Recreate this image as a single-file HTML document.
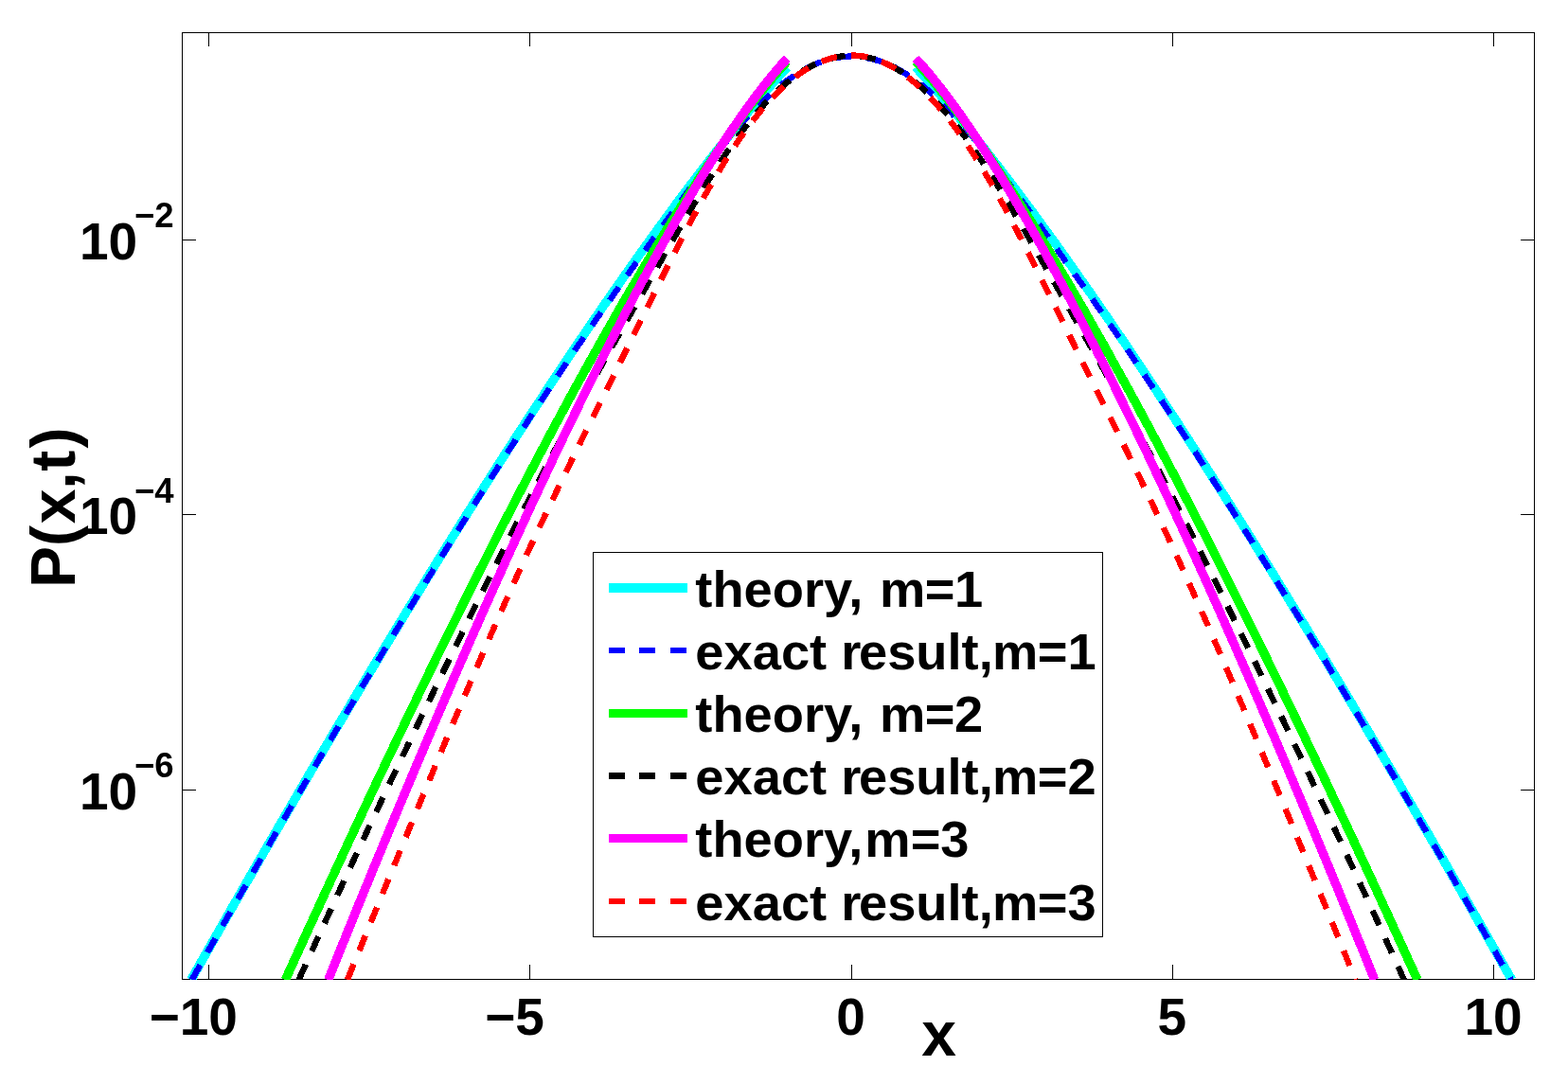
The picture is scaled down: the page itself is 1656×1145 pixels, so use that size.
<!DOCTYPE html>
<html lang="en"><head><meta charset="utf-8"><title>P(x,t)</title>
<style>
html,body{margin:0;padding:0;background:#fff;overflow:hidden;}
svg{display:block;}
text{font-family:"Liberation Sans",Arial,Helvetica,sans-serif;font-weight:bold;fill:#000;}
.tk{font-size:55px;}
.ex{font-size:36.5px;}
.lb{font-size:66px;}
.lg{font-size:54.3px;}
</style></head><body>
<svg width="1656" height="1145" viewBox="0 0 1656 1145">
<rect x="0" y="0" width="1656" height="1145" fill="#fff"/>
<defs><clipPath id="ax"><rect x="192.0" y="34.0" width="1429.0" height="1001.0"/></clipPath></defs>

<g stroke="#000" stroke-width="1" fill="none" shape-rendering="crispEdges">
<rect x="192.5" y="34.5" width="1428.0" height="1000.0"/>
<line x1="220.5" y1="1034.5" x2="220.5" y2="1019.0"/><line x1="220.5" y1="34.5" x2="220.5" y2="49.0"/>
<line x1="559.5" y1="1034.5" x2="559.5" y2="1019.0"/><line x1="559.5" y1="34.5" x2="559.5" y2="49.0"/>
<line x1="899.5" y1="1034.5" x2="899.5" y2="1019.0"/><line x1="899.5" y1="34.5" x2="899.5" y2="49.0"/>
<line x1="1238.5" y1="1034.5" x2="1238.5" y2="1019.0"/><line x1="1238.5" y1="34.5" x2="1238.5" y2="49.0"/>
<line x1="1577.5" y1="1034.5" x2="1577.5" y2="1019.0"/><line x1="1577.5" y1="34.5" x2="1577.5" y2="49.0"/>
<line x1="192.5" y1="253.5" x2="207.0" y2="253.5"/><line x1="1620.5" y1="253.5" x2="1606.0" y2="253.5"/>
<line x1="192.5" y1="543.5" x2="207.0" y2="543.5"/><line x1="1620.5" y1="543.5" x2="1606.0" y2="543.5"/>
<line x1="192.5" y1="834.5" x2="207.0" y2="834.5"/><line x1="1620.5" y1="834.5" x2="1606.0" y2="834.5"/>
</g>
<g clip-path="url(#ax)" fill="none" stroke-linejoin="round" shape-rendering="crispEdges">
<path d="M201.8,1035.0 L206.3,1027.0 L210.8,1019.1 L215.3,1011.1 L219.8,1003.2 L224.3,995.3 L228.8,987.4 L233.3,979.5 L237.8,971.6 L242.3,963.7 L246.8,955.8 L251.3,948.0 L255.8,940.1 L260.3,932.3 L264.8,924.5 L269.3,916.6 L273.8,908.8 L278.3,901.0 L282.8,893.3 L287.3,885.5 L291.8,877.7 L296.3,870.0 L300.8,862.2 L305.3,854.5 L309.8,846.8 L314.3,839.1 L318.8,831.4 L323.2,823.7 L327.7,816.0 L332.2,808.4 L336.7,800.7 L341.2,793.1 L345.7,785.5 L350.2,777.9 L354.7,770.3 L359.2,762.7 L363.7,755.1 L368.2,747.6 L372.7,740.0 L377.2,732.5 L381.7,725.0 L386.2,717.4 L390.7,710.0 L395.2,702.5 L399.7,695.0 L404.2,687.5 L408.7,680.1 L413.2,672.7 L417.7,665.3 L422.2,657.9 L426.7,650.5 L431.2,643.1 L435.7,635.8 L440.2,628.4 L444.7,621.1 L449.1,613.8 L453.6,606.5 L458.1,599.2 L462.6,591.9 L467.1,584.7 L471.6,577.4 L476.1,570.2 L480.6,563.0 L485.1,555.8 L489.6,548.6 L494.1,541.5 L498.6,534.4 L503.1,527.2 L507.6,520.1 L512.1,513.0 L516.6,506.0 L521.1,498.9 L525.6,491.9 L530.1,484.8 L534.6,477.8 L539.1,470.9 L543.6,463.9 L548.1,456.9 L552.6,450.0 L557.1,443.1 L561.6,436.2 L566.1,429.3 L570.6,422.5 L575.1,415.7 L579.5,408.8 L584.0,402.1 L588.5,395.3 L593.0,388.5 L597.5,381.8 L602.0,375.1 L606.5,368.4 L611.0,361.7 L615.5,355.1 L620.0,348.5 L624.5,341.9 L629.0,335.3 L633.5,328.8 L638.0,322.2 L642.5,315.7 L647.0,309.2 L651.5,302.8 L656.0,296.4 L660.5,289.9 L665.0,283.6 L669.5,277.2 L674.0,270.9 L678.5,264.6 L683.0,258.3 L687.5,252.1 L692.0,245.9 L696.5,239.7 L701.0,233.5 L705.4,227.4 L709.9,221.3 L714.4,215.2 L718.9,209.2 L723.4,203.2 L727.9,197.2 L732.4,191.3 L736.9,185.4 L741.4,179.5 L745.9,173.7 L750.4,167.9 L754.9,162.1 L759.4,156.4 L763.9,150.7 L768.4,145.1 L772.9,139.4 L777.4,133.9 L781.9,128.4 L786.4,122.9 L790.9,117.4 L795.4,112.1 L799.9,106.7 L804.4,101.4 L808.9,96.2 L813.4,91.0 L817.9,85.9 L822.4,80.9 L826.9,75.9 L831.4,71.0" stroke="#00ffff" stroke-width="9.5"/>
<path d="M967.1,71.0 L971.5,75.9 L976.0,80.9 L980.5,85.9 L985.0,91.0 L989.5,96.2 L994.0,101.4 L998.5,106.7 L1003.0,112.1 L1007.5,117.4 L1012.0,122.9 L1016.5,128.4 L1021.0,133.9 L1025.5,139.4 L1030.0,145.1 L1034.5,150.7 L1039.0,156.4 L1043.5,162.1 L1048.0,167.9 L1052.5,173.7 L1057.0,179.5 L1061.5,185.4 L1066.0,191.3 L1070.5,197.2 L1075.0,203.2 L1079.5,209.2 L1084.0,215.2 L1088.5,221.3 L1093.0,227.4 L1097.4,233.5 L1101.9,239.7 L1106.4,245.9 L1110.9,252.1 L1115.4,258.3 L1119.9,264.6 L1124.4,270.9 L1128.9,277.2 L1133.4,283.6 L1137.9,289.9 L1142.4,296.4 L1146.9,302.8 L1151.4,309.2 L1155.9,315.7 L1160.4,322.2 L1164.9,328.8 L1169.4,335.3 L1173.9,341.9 L1178.4,348.5 L1182.9,355.1 L1187.4,361.7 L1191.9,368.4 L1196.4,375.1 L1200.9,381.8 L1205.4,388.5 L1209.9,395.3 L1214.4,402.1 L1218.9,408.8 L1223.3,415.7 L1227.8,422.5 L1232.3,429.3 L1236.8,436.2 L1241.3,443.1 L1245.8,450.0 L1250.3,456.9 L1254.8,463.9 L1259.3,470.9 L1263.8,477.8 L1268.3,484.8 L1272.8,491.9 L1277.3,498.9 L1281.8,506.0 L1286.3,513.0 L1290.8,520.1 L1295.3,527.2 L1299.8,534.4 L1304.3,541.5 L1308.8,548.6 L1313.3,555.8 L1317.8,563.0 L1322.3,570.2 L1326.8,577.4 L1331.3,584.7 L1335.8,591.9 L1340.3,599.2 L1344.8,606.5 L1349.3,613.8 L1353.7,621.1 L1358.2,628.4 L1362.7,635.8 L1367.2,643.1 L1371.7,650.5 L1376.2,657.9 L1380.7,665.3 L1385.2,672.7 L1389.7,680.1 L1394.2,687.5 L1398.7,695.0 L1403.2,702.5 L1407.7,710.0 L1412.2,717.4 L1416.7,725.0 L1421.2,732.5 L1425.7,740.0 L1430.2,747.6 L1434.7,755.1 L1439.2,762.7 L1443.7,770.3 L1448.2,777.9 L1452.7,785.5 L1457.2,793.1 L1461.7,800.7 L1466.2,808.4 L1470.7,816.0 L1475.2,823.7 L1479.6,831.4 L1484.1,839.1 L1488.6,846.8 L1493.1,854.5 L1497.6,862.2 L1502.1,870.0 L1506.6,877.7 L1511.1,885.5 L1515.6,893.3 L1520.1,901.0 L1524.6,908.8 L1529.1,916.6 L1533.6,924.5 L1538.1,932.3 L1542.6,940.1 L1547.1,948.0 L1551.6,955.8 L1556.1,963.7 L1560.6,971.6 L1565.1,979.5 L1569.6,987.4 L1574.1,995.3 L1578.6,1003.2 L1583.1,1011.1 L1587.6,1019.1 L1592.1,1027.0 L1596.6,1035.0" stroke="#00ffff" stroke-width="9.5"/>
<path d="M202.6,1035.0 L203.6,1033.3" stroke="#0000ff" stroke-width="6.4"/>
<path d="M202.6,1035.0 L206.8,1027.5 L211.0,1020.1 L215.3,1012.6 L219.5,1005.2 L223.7,997.8 L227.9,990.3 L232.1,982.9 L236.4,975.5 L240.6,968.1 L244.8,960.7 L249.0,953.4 L253.3,946.0 L257.5,938.6 L261.7,931.3 L265.9,924.0 L270.1,916.6 L274.4,909.3 L278.6,902.0 L282.8,894.7 L287.0,887.4 L291.2,880.1 L295.5,872.9 L299.7,865.6 L303.9,858.3 L308.1,851.1 L312.4,843.9 L316.6,836.7 L320.8,829.4 L325.0,822.2 L329.2,815.1 L333.5,807.9 L337.7,800.7 L341.9,793.6 L346.1,786.4 L350.4,779.3 L354.6,772.1 L358.8,765.0 L363.0,757.9 L367.2,750.8 L371.5,743.8 L375.7,736.7 L379.9,729.6 L384.1,722.6 L388.4,715.6 L392.6,708.6 L396.8,701.5 L401.0,694.6 L405.2,687.6 L409.5,680.6 L413.7,673.6 L417.9,666.7 L422.1,659.8 L426.3,652.9 L430.6,645.9 L434.8,639.1 L439.0,632.2 L443.2,625.3 L447.5,618.5 L451.7,611.6 L455.9,604.8 L460.1,598.0 L464.3,591.2 L468.6,584.4 L472.8,577.6 L477.0,570.9 L481.2,564.1 L485.5,557.4 L489.7,550.7 L493.9,544.0 L498.1,537.3 L502.3,530.6 L506.6,523.9 L510.8,517.3 L515.0,510.7 L519.2,504.0 L523.5,497.4 L527.7,490.8 L531.9,484.3 L536.1,477.7 L540.3,471.2 L544.6,464.6 L548.8,458.1 L553.0,451.6 L557.2,445.2 L561.4,438.7 L565.7,432.3 L569.9,425.8 L574.1,419.4 L578.3,413.1 L582.6,406.7 L586.8,400.4 L591.0,394.1 L595.2,387.8 L599.4,381.5 L603.7,375.3 L607.9,369.1 L612.1,362.9 L616.3,356.8 L620.6,350.6 L624.8,344.5 L629.0,338.4 L633.2,332.3 L637.4,326.3 L641.7,320.3 L645.9,314.3 L650.1,308.3 L654.3,302.3 L658.6,296.4 L662.8,290.4 L667.0,284.5 L671.2,278.6 L675.4,272.7 L679.7,266.8 L683.9,260.9 L688.1,255.1 L692.3,249.2 L696.5,243.4 L700.8,237.5 L705.0,231.7 L709.2,225.9 L713.4,220.1 L717.7,214.3 L721.9,208.6 L726.1,202.8 L730.3,197.1 L734.5,191.5 L738.8,185.8 L743.0,180.2 L747.2,174.7 L751.4,169.2 L755.7,163.8 L759.9,158.5 L764.1,153.2 L768.3,148.0 L772.5,142.9 L776.8,137.9 L781.0,133.0 L785.2,128.3 L789.4,123.6 L793.7,119.1 L797.9,114.7 L802.1,110.4 L806.3,106.3 L810.5,102.3 L814.8,98.5 L819.0,94.8 L823.2,91.3 L827.4,88.0 L831.6,84.8 L835.9,81.8 L840.1,79.0 L844.3,76.4 L848.5,73.9 L852.8,71.6 L857.0,69.6 L861.2,67.7 L865.4,66.0 L869.6,64.5 L873.9,63.2 L878.1,62.1 L882.3,61.2 L886.5,60.5 L890.8,60.0 L895.0,59.7 L899.2,59.6 L903.4,59.7 L907.6,60.0 L911.9,60.5 L916.1,61.2 L920.3,62.1 L924.5,63.2 L928.8,64.5 L933.0,66.0 L937.2,67.7 L941.4,69.6 L945.6,71.6 L949.9,73.9 L954.1,76.4 L958.3,79.0 L962.5,81.8 L966.8,84.8 L971.0,88.0 L975.2,91.3 L979.4,94.8 L983.6,98.5 L987.9,102.3 L992.1,106.3 L996.3,110.4 L1000.5,114.7 L1004.7,119.1 L1009.0,123.6 L1013.2,128.3 L1017.4,133.0 L1021.6,137.9 L1025.9,142.9 L1030.1,148.0 L1034.3,153.2 L1038.5,158.5 L1042.7,163.8 L1047.0,169.2 L1051.2,174.7 L1055.4,180.2 L1059.6,185.8 L1063.9,191.5 L1068.1,197.1 L1072.3,202.8 L1076.5,208.6 L1080.7,214.3 L1085.0,220.1 L1089.2,225.9 L1093.4,231.7 L1097.6,237.5 L1101.9,243.4 L1106.1,249.2 L1110.3,255.1 L1114.5,260.9 L1118.7,266.8 L1123.0,272.7 L1127.2,278.6 L1131.4,284.5 L1135.6,290.4 L1139.8,296.4 L1144.1,302.3 L1148.3,308.3 L1152.5,314.3 L1156.7,320.3 L1161.0,326.3 L1165.2,332.3 L1169.4,338.4 L1173.6,344.5 L1177.8,350.6 L1182.1,356.8 L1186.3,362.9 L1190.5,369.1 L1194.7,375.3 L1199.0,381.5 L1203.2,387.8 L1207.4,394.1 L1211.6,400.4 L1215.8,406.7 L1220.1,413.1 L1224.3,419.4 L1228.5,425.8 L1232.7,432.3 L1237.0,438.7 L1241.2,445.2 L1245.4,451.6 L1249.6,458.1 L1253.8,464.6 L1258.1,471.2 L1262.3,477.7 L1266.5,484.3 L1270.7,490.8 L1274.9,497.4 L1279.2,504.0 L1283.4,510.7 L1287.6,517.3 L1291.8,523.9 L1296.1,530.6 L1300.3,537.3 L1304.5,544.0 L1308.7,550.7 L1312.9,557.4 L1317.2,564.1 L1321.4,570.9 L1325.6,577.6 L1329.8,584.4 L1334.1,591.2 L1338.3,598.0 L1342.5,604.8 L1346.7,611.6 L1350.9,618.5 L1355.2,625.3 L1359.4,632.2 L1363.6,639.1 L1367.8,645.9 L1372.1,652.9 L1376.3,659.8 L1380.5,666.7 L1384.7,673.6 L1388.9,680.6 L1393.2,687.6 L1397.4,694.6 L1401.6,701.5 L1405.8,708.6 L1410.0,715.6 L1414.3,722.6 L1418.5,729.6 L1422.7,736.7 L1426.9,743.8 L1431.2,750.8 L1435.4,757.9 L1439.6,765.0 L1443.8,772.1 L1448.0,779.3 L1452.3,786.4 L1456.5,793.6 L1460.7,800.7 L1464.9,807.9 L1469.2,815.1 L1473.4,822.2 L1477.6,829.4 L1481.8,836.7 L1486.0,843.9 L1490.3,851.1 L1494.5,858.3 L1498.7,865.6 L1502.9,872.9 L1507.2,880.1 L1511.4,887.4 L1515.6,894.7 L1519.8,902.0 L1524.0,909.3 L1528.3,916.6 L1532.5,924.0 L1536.7,931.3 L1540.9,938.6 L1545.1,946.0 L1549.4,953.4 L1553.6,960.7 L1557.8,968.1 L1562.0,975.5 L1566.3,982.9 L1570.5,990.3 L1574.7,997.8 L1578.9,1005.2 L1583.1,1012.6 L1587.4,1020.1 L1591.6,1027.5 L1595.8,1035.0" stroke="#0000ff" stroke-width="6.4" stroke-dasharray="17 15.38" stroke-dashoffset="-0.9"/>
<path d="M301.4,1035.0 L305.2,1026.6 L309.0,1018.3 L312.8,1010.0 L316.5,1001.7 L320.3,993.4 L324.1,985.1 L327.9,976.8 L331.7,968.5 L335.5,960.3 L339.3,952.0 L343.0,943.8 L346.8,935.6 L350.6,927.4 L354.4,919.2 L358.2,911.0 L362.0,902.9 L365.8,894.7 L369.5,886.6 L373.3,878.5 L377.1,870.4 L380.9,862.3 L384.7,854.3 L388.5,846.2 L392.3,838.2 L396.0,830.1 L399.8,822.1 L403.6,814.1 L407.4,806.2 L411.2,798.2 L415.0,790.2 L418.8,782.3 L422.5,774.4 L426.3,766.5 L430.1,758.6 L433.9,750.7 L437.7,742.9 L441.5,735.0 L445.2,727.2 L449.0,719.4 L452.8,711.6 L456.6,703.9 L460.4,696.1 L464.2,688.4 L468.0,680.7 L471.7,673.0 L475.5,665.3 L479.3,657.6 L483.1,650.0 L486.9,642.3 L490.7,634.7 L494.5,627.1 L498.2,619.6 L502.0,612.0 L505.8,604.5 L509.6,597.0 L513.4,589.5 L517.2,582.0 L521.0,574.5 L524.7,567.1 L528.5,559.7 L532.3,552.3 L536.1,544.9 L539.9,537.6 L543.7,530.2 L547.5,522.9 L551.2,515.6 L555.0,508.4 L558.8,501.1 L562.6,493.9 L566.4,486.7 L570.2,479.5 L573.9,472.4 L577.7,465.2 L581.5,458.1 L585.3,451.0 L589.1,444.0 L592.9,436.9 L596.7,429.9 L600.4,422.9 L604.2,416.0 L608.0,409.0 L611.8,402.1 L615.6,395.2 L619.4,388.4 L623.2,381.6 L626.9,374.8 L630.7,368.0 L634.5,361.2 L638.3,354.5 L642.1,347.8 L645.9,341.2 L649.7,334.5 L653.4,327.9 L657.2,321.3 L661.0,314.8 L664.8,308.3 L668.6,301.8 L672.4,295.4 L676.2,289.0 L679.9,282.6 L683.7,276.2 L687.5,269.9 L691.3,263.6 L695.1,257.4 L698.9,251.2 L702.6,245.0 L706.4,238.9 L710.2,232.8 L714.0,226.8 L717.8,220.7 L721.6,214.8 L725.4,208.8 L729.1,202.9 L732.9,197.1 L736.7,191.3 L740.5,185.5 L744.3,179.8 L748.1,174.2 L751.9,168.5 L755.6,163.0 L759.4,157.5 L763.2,152.0 L767.0,146.6 L770.8,141.2 L774.6,135.9 L778.4,130.7 L782.1,125.5 L785.9,120.4 L789.7,115.3 L793.5,110.3 L797.3,105.4 L801.1,100.5 L804.9,95.8 L808.6,91.1 L812.4,86.4 L816.2,81.9 L820.0,77.5 L823.8,73.1 L827.6,68.9 L831.4,64.7" stroke="#00ff00" stroke-width="9.5"/>
<path d="M967.1,64.7 L970.8,68.9 L974.6,73.1 L978.4,77.5 L982.2,81.9 L986.0,86.4 L989.8,91.1 L993.5,95.8 L997.3,100.5 L1001.1,105.4 L1004.9,110.3 L1008.7,115.3 L1012.5,120.4 L1016.3,125.5 L1020.0,130.7 L1023.8,135.9 L1027.6,141.2 L1031.4,146.6 L1035.2,152.0 L1039.0,157.5 L1042.8,163.0 L1046.5,168.5 L1050.3,174.2 L1054.1,179.8 L1057.9,185.5 L1061.7,191.3 L1065.5,197.1 L1069.3,202.9 L1073.0,208.8 L1076.8,214.8 L1080.6,220.7 L1084.4,226.8 L1088.2,232.8 L1092.0,238.9 L1095.8,245.0 L1099.5,251.2 L1103.3,257.4 L1107.1,263.6 L1110.9,269.9 L1114.7,276.2 L1118.5,282.6 L1122.2,289.0 L1126.0,295.4 L1129.8,301.8 L1133.6,308.3 L1137.4,314.8 L1141.2,321.3 L1145.0,327.9 L1148.7,334.5 L1152.5,341.2 L1156.3,347.8 L1160.1,354.5 L1163.9,361.2 L1167.7,368.0 L1171.5,374.8 L1175.2,381.6 L1179.0,388.4 L1182.8,395.2 L1186.6,402.1 L1190.4,409.0 L1194.2,416.0 L1198.0,422.9 L1201.7,429.9 L1205.5,436.9 L1209.3,444.0 L1213.1,451.0 L1216.9,458.1 L1220.7,465.2 L1224.5,472.4 L1228.2,479.5 L1232.0,486.7 L1235.8,493.9 L1239.6,501.1 L1243.4,508.4 L1247.2,515.6 L1250.9,522.9 L1254.7,530.2 L1258.5,537.6 L1262.3,544.9 L1266.1,552.3 L1269.9,559.7 L1273.7,567.1 L1277.4,574.5 L1281.2,582.0 L1285.0,589.5 L1288.8,597.0 L1292.6,604.5 L1296.4,612.0 L1300.2,619.6 L1303.9,627.1 L1307.7,634.7 L1311.5,642.3 L1315.3,650.0 L1319.1,657.6 L1322.9,665.3 L1326.7,673.0 L1330.4,680.7 L1334.2,688.4 L1338.0,696.1 L1341.8,703.9 L1345.6,711.6 L1349.4,719.4 L1353.2,727.2 L1356.9,735.0 L1360.7,742.9 L1364.5,750.7 L1368.3,758.6 L1372.1,766.5 L1375.9,774.4 L1379.6,782.3 L1383.4,790.2 L1387.2,798.2 L1391.0,806.2 L1394.8,814.1 L1398.6,822.1 L1402.4,830.1 L1406.1,838.2 L1409.9,846.2 L1413.7,854.3 L1417.5,862.3 L1421.3,870.4 L1425.1,878.5 L1428.9,886.6 L1432.6,894.7 L1436.4,902.9 L1440.2,911.0 L1444.0,919.2 L1447.8,927.4 L1451.6,935.6 L1455.4,943.8 L1459.1,952.0 L1462.9,960.3 L1466.7,968.5 L1470.5,976.8 L1474.3,985.1 L1478.1,993.4 L1481.9,1001.7 L1485.6,1010.0 L1489.4,1018.3 L1493.2,1026.6 L1497.0,1035.0" stroke="#00ff00" stroke-width="9.5"/>
<path d="M315.5,1035.0 L316.3,1033.2" stroke="#000000" stroke-width="6.4"/>
<path d="M315.5,1035.0 L319.0,1027.2 L322.6,1019.4 L326.1,1011.6 L329.6,1003.8 L333.2,996.0 L336.7,988.3 L340.2,980.6 L343.8,972.8 L347.3,965.1 L350.9,957.4 L354.4,949.7 L357.9,942.1 L361.5,934.4 L365.0,926.7 L368.5,919.1 L372.1,911.5 L375.6,903.9 L379.2,896.3 L382.7,888.7 L386.2,881.2 L389.8,873.6 L393.3,866.1 L396.8,858.5 L400.4,851.0 L403.9,843.5 L407.5,836.0 L411.0,828.6 L414.5,821.1 L418.1,813.7 L421.6,806.2 L425.1,798.8 L428.7,791.4 L432.2,784.0 L435.8,776.6 L439.3,769.2 L442.8,761.8 L446.4,754.5 L449.9,747.1 L453.5,739.8 L457.0,732.5 L460.5,725.1 L464.1,717.8 L467.6,710.5 L471.1,703.2 L474.7,696.0 L478.2,688.7 L481.8,681.4 L485.3,674.2 L488.8,667.0 L492.4,659.8 L495.9,652.6 L499.4,645.4 L503.0,638.2 L506.5,631.0 L510.1,623.9 L513.6,616.7 L517.1,609.6 L520.7,602.5 L524.2,595.5 L527.7,588.4 L531.3,581.4 L534.8,574.3 L538.4,567.3 L541.9,560.4 L545.4,553.4 L549.0,546.5 L552.5,539.6 L556.0,532.7 L559.6,525.9 L563.1,519.1 L566.7,512.3 L570.2,505.5 L573.7,498.8 L577.3,492.1 L580.8,485.4 L584.3,478.7 L587.9,472.1 L591.4,465.5 L595.0,459.0 L598.5,452.4 L602.0,445.9 L605.6,439.5 L609.1,433.0 L612.6,426.6 L616.2,420.2 L619.7,413.8 L623.3,407.4 L626.8,401.1 L630.3,394.8 L633.9,388.5 L637.4,382.2 L640.9,375.9 L644.5,369.6 L648.0,363.4 L651.6,357.1 L655.1,350.9 L658.6,344.6 L662.2,338.4 L665.7,332.1 L669.2,325.9 L672.8,319.7 L676.3,313.5 L679.9,307.2 L683.4,301.0 L686.9,294.8 L690.5,288.6 L694.0,282.4 L697.6,276.2 L701.1,270.0 L704.6,263.8 L708.2,257.7 L711.7,251.5 L715.2,245.4 L718.8,239.4 L722.3,233.3 L725.9,227.3 L729.4,221.3 L732.9,215.4 L736.5,209.6 L740.0,203.8 L743.5,198.0 L747.1,192.3 L750.6,186.7 L754.2,181.2 L757.7,175.8 L761.2,170.4 L764.8,165.1 L768.3,159.9 L771.8,154.8 L775.4,149.9 L778.9,145.0 L782.5,140.2 L786.0,135.6 L789.5,131.0 L793.1,126.6 L796.6,122.3 L800.1,118.1 L803.7,114.1 L807.2,110.2 L810.8,106.4 L814.3,102.7 L817.8,99.2 L821.4,95.8 L824.9,92.6 L828.4,89.5 L832.0,86.5 L835.5,83.7 L839.1,81.0 L842.6,78.5 L846.1,76.1 L849.7,73.9 L853.2,71.8 L856.7,69.9 L860.3,68.1 L863.8,66.5 L867.4,65.0 L870.9,63.7 L874.4,62.6 L878.0,61.6 L881.5,60.7 L885.0,60.0 L888.6,59.5 L892.1,59.1 L895.7,58.8 L899.2,58.8 L902.7,58.8 L906.3,59.1 L909.8,59.5 L913.4,60.0 L916.9,60.7 L920.4,61.6 L924.0,62.6 L927.5,63.7 L931.0,65.0 L934.6,66.5 L938.1,68.1 L941.7,69.9 L945.2,71.8 L948.7,73.9 L952.3,76.1 L955.8,78.5 L959.3,81.0 L962.9,83.7 L966.4,86.5 L970.0,89.5 L973.5,92.6 L977.0,95.8 L980.6,99.2 L984.1,102.7 L987.6,106.4 L991.2,110.2 L994.7,114.1 L998.3,118.1 L1001.8,122.3 L1005.3,126.6 L1008.9,131.0 L1012.4,135.6 L1015.9,140.2 L1019.5,145.0 L1023.0,149.9 L1026.6,154.8 L1030.1,159.9 L1033.6,165.1 L1037.2,170.4 L1040.7,175.8 L1044.2,181.2 L1047.8,186.7 L1051.3,192.3 L1054.9,198.0 L1058.4,203.8 L1061.9,209.6 L1065.5,215.4 L1069.0,221.3 L1072.5,227.3 L1076.1,233.3 L1079.6,239.4 L1083.2,245.4 L1086.7,251.5 L1090.2,257.7 L1093.8,263.8 L1097.3,270.0 L1100.8,276.2 L1104.4,282.4 L1107.9,288.6 L1111.5,294.8 L1115.0,301.0 L1118.5,307.2 L1122.1,313.5 L1125.6,319.7 L1129.2,325.9 L1132.7,332.1 L1136.2,338.4 L1139.8,344.6 L1143.3,350.9 L1146.8,357.1 L1150.4,363.4 L1153.9,369.6 L1157.5,375.9 L1161.0,382.2 L1164.5,388.5 L1168.1,394.8 L1171.6,401.1 L1175.1,407.4 L1178.7,413.8 L1182.2,420.2 L1185.8,426.6 L1189.3,433.0 L1192.8,439.5 L1196.4,445.9 L1199.9,452.4 L1203.4,459.0 L1207.0,465.5 L1210.5,472.1 L1214.1,478.7 L1217.6,485.4 L1221.1,492.1 L1224.7,498.8 L1228.2,505.5 L1231.7,512.3 L1235.3,519.1 L1238.8,525.9 L1242.4,532.7 L1245.9,539.6 L1249.4,546.5 L1253.0,553.4 L1256.5,560.4 L1260.0,567.3 L1263.6,574.3 L1267.1,581.4 L1270.7,588.4 L1274.2,595.5 L1277.7,602.5 L1281.3,609.6 L1284.8,616.7 L1288.3,623.9 L1291.9,631.0 L1295.4,638.2 L1299.0,645.4 L1302.5,652.6 L1306.0,659.8 L1309.6,667.0 L1313.1,674.2 L1316.6,681.4 L1320.2,688.7 L1323.7,696.0 L1327.3,703.2 L1330.8,710.5 L1334.3,717.8 L1337.9,725.1 L1341.4,732.5 L1344.9,739.8 L1348.5,747.1 L1352.0,754.5 L1355.6,761.8 L1359.1,769.2 L1362.6,776.6 L1366.2,784.0 L1369.7,791.4 L1373.3,798.8 L1376.8,806.2 L1380.3,813.7 L1383.9,821.1 L1387.4,828.6 L1390.9,836.0 L1394.5,843.5 L1398.0,851.0 L1401.6,858.5 L1405.1,866.1 L1408.6,873.6 L1412.2,881.2 L1415.7,888.7 L1419.2,896.3 L1422.8,903.9 L1426.3,911.5 L1429.9,919.1 L1433.4,926.7 L1436.9,934.4 L1440.5,942.1 L1444.0,949.7 L1447.5,957.4 L1451.1,965.1 L1454.6,972.8 L1458.2,980.6 L1461.7,988.3 L1465.2,996.0 L1468.8,1003.8 L1472.3,1011.6 L1475.8,1019.4 L1479.4,1027.2 L1482.9,1035.0" stroke="#000000" stroke-width="6.4" stroke-dasharray="17 15.38" stroke-dashoffset="-0.9"/>
<path d="M346.7,1035.0 L350.1,1026.4 L353.6,1017.8 L357.1,1009.2 L360.5,1000.6 L364.0,992.1 L367.4,983.5 L370.9,975.0 L374.4,966.5 L377.8,958.0 L381.3,949.5 L384.7,941.0 L388.2,932.6 L391.7,924.2 L395.1,915.7 L398.6,907.3 L402.1,898.9 L405.5,890.6 L409.0,882.2 L412.4,873.9 L415.9,865.6 L419.4,857.3 L422.8,849.0 L426.3,840.7 L429.8,832.5 L433.2,824.2 L436.7,816.0 L440.1,807.8 L443.6,799.7 L447.1,791.5 L450.5,783.3 L454.0,775.2 L457.5,767.1 L460.9,759.0 L464.4,751.0 L467.8,742.9 L471.3,734.9 L474.8,726.9 L478.2,718.9 L481.7,710.9 L485.1,703.0 L488.6,695.0 L492.1,687.1 L495.5,679.2 L499.0,671.3 L502.5,663.5 L505.9,655.7 L509.4,647.8 L512.8,640.1 L516.3,632.3 L519.8,624.5 L523.2,616.8 L526.7,609.1 L530.2,601.4 L533.6,593.8 L537.1,586.1 L540.5,578.5 L544.0,570.9 L547.5,563.4 L550.9,555.8 L554.4,548.3 L557.8,540.8 L561.3,533.3 L564.8,525.9 L568.2,518.5 L571.7,511.1 L575.2,503.7 L578.6,496.4 L582.1,489.0 L585.5,481.7 L589.0,474.5 L592.5,467.2 L595.9,460.0 L599.4,452.8 L602.9,445.7 L606.3,438.5 L609.8,431.4 L613.2,424.4 L616.7,417.3 L620.2,410.3 L623.6,403.3 L627.1,396.4 L630.6,389.4 L634.0,382.5 L637.5,375.7 L640.9,368.8 L644.4,362.0 L647.9,355.3 L651.3,348.5 L654.8,341.8 L658.2,335.1 L661.7,328.5 L665.2,321.9 L668.6,315.3 L672.1,308.8 L675.6,302.3 L679.0,295.9 L682.5,289.4 L685.9,283.1 L689.4,276.7 L692.9,270.4 L696.3,264.1 L699.8,257.9 L703.3,251.7 L706.7,245.6 L710.2,239.5 L713.6,233.4 L717.1,227.4 L720.6,221.5 L724.0,215.5 L727.5,209.7 L731.0,203.8 L734.4,198.1 L737.9,192.3 L741.3,186.6 L744.8,181.0 L748.3,175.4 L751.7,169.9 L755.2,164.5 L758.6,159.0 L762.1,153.7 L765.6,148.4 L769.0,143.2 L772.5,138.0 L776.0,132.9 L779.4,127.9 L782.9,122.9 L786.3,118.0 L789.8,113.1 L793.3,108.4 L796.7,103.7 L800.2,99.1 L803.7,94.6 L807.1,90.1 L810.6,85.8 L814.0,81.5 L817.5,77.4 L821.0,73.3 L824.4,69.4 L827.9,65.5 L831.4,61.8" stroke="#ff00ff" stroke-width="9.5"/>
<path d="M967.1,61.8 L970.5,65.5 L974.0,69.4 L977.4,73.3 L980.9,77.4 L984.4,81.5 L987.8,85.8 L991.3,90.1 L994.7,94.6 L998.2,99.1 L1001.7,103.7 L1005.1,108.4 L1008.6,113.1 L1012.1,118.0 L1015.5,122.9 L1019.0,127.9 L1022.4,132.9 L1025.9,138.0 L1029.4,143.2 L1032.8,148.4 L1036.3,153.7 L1039.8,159.0 L1043.2,164.5 L1046.7,169.9 L1050.1,175.4 L1053.6,181.0 L1057.1,186.6 L1060.5,192.3 L1064.0,198.1 L1067.4,203.8 L1070.9,209.7 L1074.4,215.5 L1077.8,221.5 L1081.3,227.4 L1084.8,233.4 L1088.2,239.5 L1091.7,245.6 L1095.1,251.7 L1098.6,257.9 L1102.1,264.1 L1105.5,270.4 L1109.0,276.7 L1112.5,283.1 L1115.9,289.4 L1119.4,295.9 L1122.8,302.3 L1126.3,308.8 L1129.8,315.3 L1133.2,321.9 L1136.7,328.5 L1140.2,335.1 L1143.6,341.8 L1147.1,348.5 L1150.5,355.3 L1154.0,362.0 L1157.5,368.8 L1160.9,375.7 L1164.4,382.5 L1167.8,389.4 L1171.3,396.4 L1174.8,403.3 L1178.2,410.3 L1181.7,417.3 L1185.2,424.4 L1188.6,431.4 L1192.1,438.5 L1195.5,445.7 L1199.0,452.8 L1202.5,460.0 L1205.9,467.2 L1209.4,474.5 L1212.9,481.7 L1216.3,489.0 L1219.8,496.4 L1223.2,503.7 L1226.7,511.1 L1230.2,518.5 L1233.6,525.9 L1237.1,533.3 L1240.6,540.8 L1244.0,548.3 L1247.5,555.8 L1250.9,563.4 L1254.4,570.9 L1257.9,578.5 L1261.3,586.1 L1264.8,593.8 L1268.2,601.4 L1271.7,609.1 L1275.2,616.8 L1278.6,624.5 L1282.1,632.3 L1285.6,640.1 L1289.0,647.8 L1292.5,655.7 L1295.9,663.5 L1299.4,671.3 L1302.9,679.2 L1306.3,687.1 L1309.8,695.0 L1313.3,703.0 L1316.7,710.9 L1320.2,718.9 L1323.6,726.9 L1327.1,734.9 L1330.6,742.9 L1334.0,751.0 L1337.5,759.0 L1340.9,767.1 L1344.4,775.2 L1347.9,783.3 L1351.3,791.5 L1354.8,799.7 L1358.3,807.8 L1361.7,816.0 L1365.2,824.2 L1368.6,832.5 L1372.1,840.7 L1375.6,849.0 L1379.0,857.3 L1382.5,865.6 L1386.0,873.9 L1389.4,882.2 L1392.9,890.6 L1396.3,898.9 L1399.8,907.3 L1403.3,915.7 L1406.7,924.2 L1410.2,932.6 L1413.7,941.0 L1417.1,949.5 L1420.6,958.0 L1424.0,966.5 L1427.5,975.0 L1431.0,983.5 L1434.4,992.1 L1437.9,1000.6 L1441.3,1009.2 L1444.8,1017.8 L1448.3,1026.4 L1451.7,1035.0" stroke="#ff00ff" stroke-width="9.5"/>
<path d="M366.9,1035.0 L367.6,1033.1" stroke="#ff0000" stroke-width="6.4"/>
<path d="M366.9,1035.0 L370.1,1027.0 L373.3,1019.1 L376.5,1011.2 L379.8,1003.2 L383.0,995.3 L386.2,987.4 L389.4,979.5 L392.7,971.6 L395.9,963.7 L399.1,955.8 L402.4,948.0 L405.6,940.1 L408.8,932.2 L412.0,924.4 L415.3,916.5 L418.5,908.7 L421.7,900.8 L424.9,893.0 L428.2,885.2 L431.4,877.3 L434.6,869.5 L437.8,861.7 L441.1,853.9 L444.3,846.1 L447.5,838.3 L450.7,830.5 L454.0,822.7 L457.2,815.0 L460.4,807.2 L463.7,799.5 L466.9,791.7 L470.1,784.0 L473.3,776.3 L476.6,768.6 L479.8,760.9 L483.0,753.3 L486.2,745.6 L489.5,738.0 L492.7,730.4 L495.9,722.8 L499.1,715.2 L502.4,707.7 L505.6,700.2 L508.8,692.7 L512.0,685.2 L515.3,677.8 L518.5,670.4 L521.7,663.0 L525.0,655.6 L528.2,648.3 L531.4,641.0 L534.6,633.7 L537.9,626.5 L541.1,619.3 L544.3,612.1 L547.5,605.0 L550.8,597.9 L554.0,590.9 L557.2,583.8 L560.4,576.8 L563.7,569.9 L566.9,563.0 L570.1,556.1 L573.3,549.2 L576.6,542.4 L579.8,535.6 L583.0,528.8 L586.3,522.1 L589.5,515.4 L592.7,508.7 L595.9,502.1 L599.2,495.5 L602.4,488.9 L605.6,482.3 L608.8,475.7 L612.1,469.2 L615.3,462.6 L618.5,456.1 L621.7,449.6 L625.0,443.1 L628.2,436.6 L631.4,430.1 L634.6,423.6 L637.9,417.1 L641.1,410.6 L644.3,404.1 L647.6,397.6 L650.8,391.1 L654.0,384.6 L657.2,378.1 L660.5,371.6 L663.7,365.0 L666.9,358.5 L670.1,352.0 L673.4,345.4 L676.6,338.9 L679.8,332.3 L683.0,325.8 L686.3,319.2 L689.5,312.7 L692.7,306.2 L695.9,299.7 L699.2,293.2 L702.4,286.7 L705.6,280.3 L708.9,273.9 L712.1,267.5 L715.3,261.2 L718.5,254.9 L721.8,248.6 L725.0,242.4 L728.2,236.3 L731.4,230.2 L734.7,224.2 L737.9,218.2 L741.1,212.4 L744.3,206.6 L747.6,200.8 L750.8,195.2 L754.0,189.6 L757.2,184.2 L760.5,178.8 L763.7,173.5 L766.9,168.3 L770.1,163.2 L773.4,158.3 L776.6,153.4 L779.8,148.6 L783.1,143.9 L786.3,139.4 L789.5,134.9 L792.7,130.6 L796.0,126.4 L799.2,122.3 L802.4,118.3 L805.6,114.5 L808.9,110.7 L812.1,107.1 L815.3,103.6 L818.5,100.3 L821.8,97.0 L825.0,93.9 L828.2,90.9 L831.4,88.1 L834.7,85.4 L837.9,82.8 L841.1,80.3 L844.4,78.0 L847.6,75.7 L850.8,73.7 L854.0,71.7 L857.3,69.9 L860.5,68.2 L863.7,66.7 L866.9,65.3 L870.2,64.0 L873.4,62.9 L876.6,61.9 L879.8,61.0 L883.1,60.2 L886.3,59.6 L889.5,59.2 L892.7,58.8 L896.0,58.6 L899.2,58.5 L902.4,58.6 L905.7,58.8 L908.9,59.2 L912.1,59.6 L915.3,60.2 L918.6,61.0 L921.8,61.9 L925.0,62.9 L928.2,64.0 L931.5,65.3 L934.7,66.7 L937.9,68.2 L941.1,69.9 L944.4,71.7 L947.6,73.7 L950.8,75.7 L954.0,78.0 L957.3,80.3 L960.5,82.8 L963.7,85.4 L967.0,88.1 L970.2,90.9 L973.4,93.9 L976.6,97.0 L979.9,100.3 L983.1,103.6 L986.3,107.1 L989.5,110.7 L992.8,114.5 L996.0,118.3 L999.2,122.3 L1002.4,126.4 L1005.7,130.6 L1008.9,134.9 L1012.1,139.4 L1015.3,143.9 L1018.6,148.6 L1021.8,153.4 L1025.0,158.3 L1028.3,163.2 L1031.5,168.3 L1034.7,173.5 L1037.9,178.8 L1041.2,184.2 L1044.4,189.6 L1047.6,195.2 L1050.8,200.8 L1054.1,206.6 L1057.3,212.4 L1060.5,218.2 L1063.7,224.2 L1067.0,230.2 L1070.2,236.3 L1073.4,242.4 L1076.6,248.6 L1079.9,254.9 L1083.1,261.2 L1086.3,267.5 L1089.5,273.9 L1092.8,280.3 L1096.0,286.7 L1099.2,293.2 L1102.5,299.7 L1105.7,306.2 L1108.9,312.7 L1112.1,319.2 L1115.4,325.8 L1118.6,332.3 L1121.8,338.9 L1125.0,345.4 L1128.3,352.0 L1131.5,358.5 L1134.7,365.0 L1137.9,371.6 L1141.2,378.1 L1144.4,384.6 L1147.6,391.1 L1150.8,397.6 L1154.1,404.1 L1157.3,410.6 L1160.5,417.1 L1163.8,423.6 L1167.0,430.1 L1170.2,436.6 L1173.4,443.1 L1176.7,449.6 L1179.9,456.1 L1183.1,462.6 L1186.3,469.2 L1189.6,475.7 L1192.8,482.3 L1196.0,488.9 L1199.2,495.5 L1202.5,502.1 L1205.7,508.7 L1208.9,515.4 L1212.1,522.1 L1215.4,528.8 L1218.6,535.6 L1221.8,542.4 L1225.1,549.2 L1228.3,556.1 L1231.5,563.0 L1234.7,569.9 L1238.0,576.8 L1241.2,583.8 L1244.4,590.9 L1247.6,597.9 L1250.9,605.0 L1254.1,612.1 L1257.3,619.3 L1260.5,626.5 L1263.8,633.7 L1267.0,641.0 L1270.2,648.3 L1273.4,655.6 L1276.7,663.0 L1279.9,670.4 L1283.1,677.8 L1286.4,685.2 L1289.6,692.7 L1292.8,700.2 L1296.0,707.7 L1299.3,715.2 L1302.5,722.8 L1305.7,730.4 L1308.9,738.0 L1312.2,745.6 L1315.4,753.3 L1318.6,760.9 L1321.8,768.6 L1325.1,776.3 L1328.3,784.0 L1331.5,791.7 L1334.7,799.5 L1338.0,807.2 L1341.2,815.0 L1344.4,822.7 L1347.7,830.5 L1350.9,838.3 L1354.1,846.1 L1357.3,853.9 L1360.6,861.7 L1363.8,869.5 L1367.0,877.3 L1370.2,885.2 L1373.5,893.0 L1376.7,900.8 L1379.9,908.7 L1383.1,916.5 L1386.4,924.4 L1389.6,932.2 L1392.8,940.1 L1396.0,948.0 L1399.3,955.8 L1402.5,963.7 L1405.7,971.6 L1409.0,979.5 L1412.2,987.4 L1415.4,995.3 L1418.6,1003.2 L1421.9,1011.2 L1425.1,1019.1 L1428.3,1027.0 L1431.5,1035.0" stroke="#ff0000" stroke-width="6.4" stroke-dasharray="17 15.38" stroke-dashoffset="-0.9"/>
</g>
<text class="tk" x="204.3" y="1093" text-anchor="middle">−10</text>
<text class="tk" x="543.5" y="1093" text-anchor="middle">−5</text>
<text class="tk" x="898.5" y="1093" text-anchor="middle">0</text>
<text class="tk" x="1237.8" y="1093" text-anchor="middle">5</text>
<text class="tk" x="1577.0" y="1093" text-anchor="middle">10</text>
<text class="tk" x="84" y="274.0">10<tspan class="ex" x="142" dy="-33.8">−2</tspan></text>
<text class="tk" x="84" y="564.4">10<tspan class="ex" x="142" dy="-33.8">−4</tspan></text>
<text class="tk" x="84" y="854.8">10<tspan class="ex" x="142" dy="-33.8">−6</tspan></text>
<text class="lb" x="991.5" y="1115" text-anchor="middle">x</text>
<text class="lb" transform="translate(79.2,621) rotate(-90)" dx="0 0 1.65 0 0.6 2.15">P(x,t)</text>
<rect x="626.5" y="583.5" width="538.0" height="406.0" fill="#fff" stroke="#000" stroke-width="1" shape-rendering="crispEdges"/>
<g shape-rendering="crispEdges" stroke="none">
<rect x="643" y="616" width="83" height="10" fill="#00ffff"/>
<rect x="643" y="684" width="17" height="6" fill="#0000ff"/>
<rect x="675" y="684" width="17" height="6" fill="#0000ff"/>
<rect x="708" y="684" width="17" height="6" fill="#0000ff"/>
<rect x="643" y="749" width="83" height="9" fill="#00ff00"/>
<rect x="643" y="816" width="17" height="7" fill="#000000"/>
<rect x="675" y="816" width="17" height="7" fill="#000000"/>
<rect x="708" y="816" width="17" height="7" fill="#000000"/>
<rect x="643" y="881" width="83" height="9" fill="#ff00ff"/>
<rect x="643" y="949" width="17" height="6" fill="#ff0000"/>
<rect x="675" y="949" width="17" height="6" fill="#ff0000"/>
<rect x="708" y="949" width="17" height="6" fill="#ff0000"/>
</g>
<text class="lg" x="734.3" y="640.9" dx="0 0 0 0 0 0 0 0 2.5 -0.5 -0.5">theory, m=1</text>
<text class="lg" x="734.3" y="706.9" dx="0 0 0 0 0 0 0 -2.5 0 0 0 0 0 -0.8 -0.5 0">exact result,m=1</text>
<text class="lg" x="734.3" y="773.3" dx="0 0 0 0 0 0 0 0 2.5 -0.5 -0.5">theory, m=2</text>
<text class="lg" x="734.3" y="839.3" dx="0 0 0 0 0 0 0 -2.5 0 0 0 0 0 -0.8 -0.5 0">exact result,m=2</text>
<text class="lg" x="734.3" y="905.3" dx="0 0 0 0 0 0 0 2 0 0">theory,m=3</text>
<text class="lg" x="734.3" y="971.8" dx="0 0 0 0 0 0 0 -2.5 0 0 0 0 0 -0.8 -0.5 0">exact result,m=3</text>
</svg></body></html>
